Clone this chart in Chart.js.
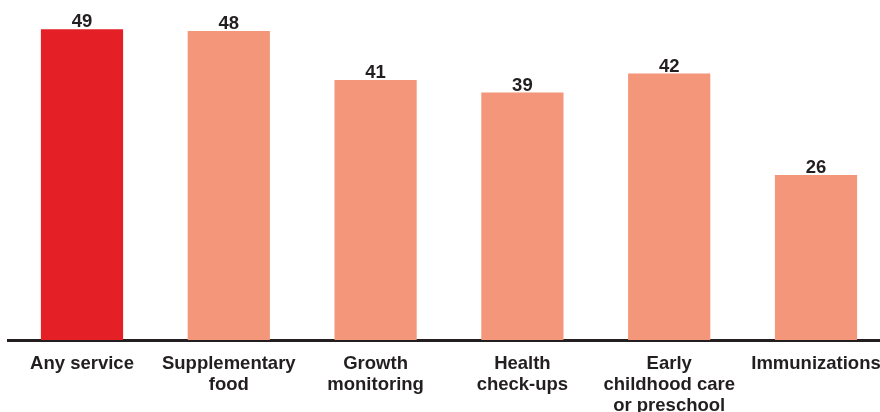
<!DOCTYPE html>
<html>
<head>
<meta charset="utf-8">
<script src="https://cdn.jsdelivr.net/npm/chart.js@4/dist/chart.umd.min.js"></script>
<style>
  html, body { margin: 0; padding: 0; background: #fff; overflow: hidden; }
  canvas { display: block; }
</style>
</head>
<body>
<canvas id="chart" width="890" height="412"></canvas>
<script>
const categories = [
  "Any service",
  ["Supplementary", "food"],
  ["Growth", "monitoring"],
  ["Health", "check-ups"],
  ["Early", "childhood care", "or preschool"],
  "Immunizations"
];
const values = [49, 48.7, 41, 39, 42, 26];
const valueText = ["49", "48", "41", "39", "42", "26"];
const barColors = ["#e41f26", "#f3967a", "#f3967a", "#f3967a", "#f3967a", "#f3967a"];

const FONT = "'Liberation Sans', Arial, Helvetica, sans-serif";
const INK = "#231f20";

// numbers on top of the bars
const valueLabels = {
  id: "valueLabels",
  afterDatasetsDraw(chart) {
    const ctx = chart.ctx;
    const meta = chart.getDatasetMeta(0);
    ctx.save();
    ctx.font = "bold 18.5px " + FONT;
    ctx.fillStyle = INK;
    ctx.textAlign = "center";
    ctx.textBaseline = "alphabetic";
    meta.data.forEach((bar, i) => {
      ctx.fillText(valueText[i], bar.x, bar.y - 2);
    });
    ctx.restore();
  }
};

const chart = new Chart(document.getElementById("chart").getContext("2d"), {
  type: "bar",
  data: {
    labels: categories,
    datasets: [{
      data: values,
      backgroundColor: barColors,
      borderWidth: 0,
      barPercentage: 0.56,
      categoryPercentage: 1.0
    }]
  },
  options: {
    responsive: false,
    animation: false,
    layout: { padding: { left: 8.6, right: 0.6, top: 0, bottom: 0 } },
    plugins: { legend: { display: false }, tooltip: { enabled: false } },
    scales: {
      x: {
        z: 1,
        grid: { display: false, drawTicks: false },
        border: { display: true, color: INK, width: 3 },
        ticks: {
          color: INK,
          font: { family: FONT, size: 18.5, weight: "bold", lineHeight: "21px" },
          padding: 13,
          maxRotation: 0,
          minRotation: 0,
          autoSkip: false
        },
        afterFit(scale) {
          scale.height = 72;
          scale.paddingLeft = 0;
          scale.paddingRight = 0;
        }
      },
      y: {
        display: false,
        min: 0,
        max: 53.6
      }
    }
  },
  plugins: [valueLabels]
});
</script>
</body>
</html>
